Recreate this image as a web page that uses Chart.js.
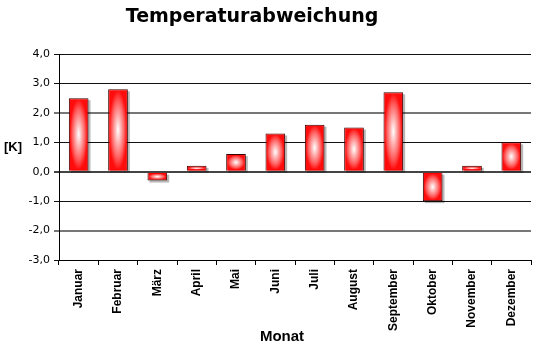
<!DOCTYPE html>
<html>
<head>
<meta charset="utf-8">
<script src="https://cdn.jsdelivr.net/npm/chart.js@4/dist/chart.umd.min.js"></script>
<style>
  html, body { margin: 0; padding: 0; background: #fff; }
  #wrap { width: 539px; height: 349px; position: relative; }
</style>
</head>
<body>
<div id="wrap"><canvas id="tempChart"></canvas></div>
<script>
const months = ["Januar", "Februar", "März", "April", "Mai", "Juni",
  "Juli", "August", "September", "Oktober", "November", "Dezember"];
const deviation = [2.5, 2.8, -0.3, 0.2, 0.6, 1.3, 1.6, 1.5, 2.7, -1.0, 0.2, 1.0];
const yTicks = [-3, -2, -1, 0, 1, 2, 3, 4];

function barRect(bar) {
  const top = Math.min(bar.y, bar.base);
  return { x: bar.x - bar.width / 2, y: top, w: bar.width, h: Math.abs(bar.base - bar.y) };
}

// shadow behind bars, white glow on top, and the loose texts
const deco = {
  id: "deco",
  beforeDatasetsDraw(chart) {
    const ctx = chart.ctx;
    ctx.save();
    ctx.fillStyle = "rgba(0,0,0,0.28)";
    chart.getDatasetMeta(0).data.forEach(bar => {
      const r = barRect(bar);
      ctx.fillRect(r.x + 2, r.y + 2, r.w, r.h);
    });
    ctx.restore();
  },
  afterDatasetsDraw(chart) {
    const ctx = chart.ctx;
    chart.getDatasetMeta(0).data.forEach(bar => {
      const r = barRect(bar);
      const x = r.x + 1, y = r.y + 1, w = r.w - 2, h = r.h - 2;
      if (w <= 0 || h <= 0) return;
      ctx.save();
      ctx.beginPath();
      ctx.rect(x, y, w, h);
      ctx.clip();
      ctx.translate(x + w / 2, y + h / 2);
      ctx.scale(w / 2, h / 2);
      const g = ctx.createRadialGradient(0, 0, 0, 0, 0, 1);
      g.addColorStop(0, "rgba(255,255,255,1)");
      g.addColorStop(0.2, "rgba(255,255,255,0.82)");
      g.addColorStop(0.7, "rgba(255,255,255,0.38)");
      g.addColorStop(1, "rgba(255,255,255,0.05)");
      ctx.fillStyle = g;
      ctx.fillRect(-1, -1, 2, 2);
      ctx.restore();
    });
  },
  afterDraw(chart) {
    const ctx = chart.ctx;
    ctx.save();
    ctx.fillStyle = "#000";
    ctx.textAlign = "center";
    ctx.textBaseline = "middle";
    ctx.font = "bold 19px 'DejaVu Sans'";
    ctx.fillText("Temperaturabweichung", 252, 17);
    ctx.font = "bold 13px 'Liberation Sans'";
    ctx.fillText("[K]", 13, 147);
    ctx.font = "bold 15px 'Liberation Sans'";
    ctx.fillText("Monat", 282, 337);
    ctx.restore();
  }
};

new Chart(document.getElementById("tempChart"), {
  type: "bar",
  data: {
    labels: months,
    datasets: [{
      data: deviation,
      backgroundColor: "#ff0000",
      borderColor: "#3a0000",
      borderWidth: 1,
      categoryPercentage: 1,
      barPercentage: 0.5
    }]
  },
  options: {
    responsive: true,
    maintainAspectRatio: false,
    animation: false,
    layout: { padding: { top: 54, right: 8, left: 0, bottom: 0 } },
    plugins: {
      legend: { display: false },
      tooltip: { enabled: false }
    },
    scales: {
      x: {
        offset: true,
        grid: { drawOnChartArea: false, drawTicks: true, tickLength: 5, color: "#000" },
        border: { color: "#000" },
        ticks: {
          color: "#000",
          font: { family: "Liberation Sans", size: 12, weight: "bold" },
          minRotation: 90,
          maxRotation: 90,
          padding: 4,
          autoSkip: false
        },
        afterFit(scale) { scale.height = 89; }
      },
      y: {
        min: yTicks[0],
        max: yTicks[yTicks.length - 1],
        afterBuildTicks(scale) { scale.ticks = yTicks.map(v => ({ value: v })); },
        grid: {
          tickLength: 5,
          color: c => (c.tick && (c.tick.value === 2 || c.tick.value === -2)) ? "#777" : (c.tick && c.tick.value === 0 ? "#444" : "#111"),
          lineWidth: c => (c.tick && (c.tick.value === 2 || c.tick.value === -2 || c.tick.value === 0)) ? 2 : 1
        },
        border: { color: "#000" },
        ticks: {
          color: "#000",
          font: { family: "DejaVu Sans", size: 11 },
          padding: 4,
          callback: v => v.toFixed(1).replace(".", ",")
        },
        afterFit(scale) { scale.width = 59; }
      }
    }
  },
  plugins: [deco]
});
</script>
</body>
</html>
